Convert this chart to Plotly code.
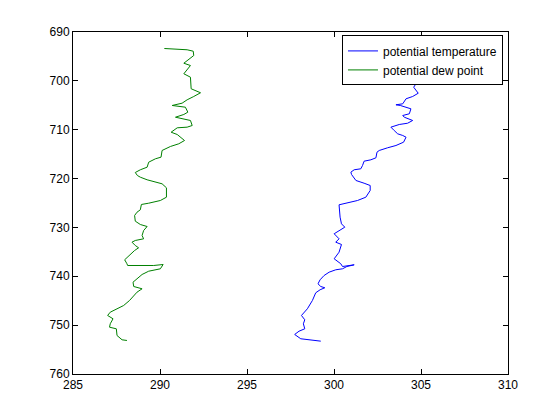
import plotly.graph_objects as go

# potential temperature (blue)
theta_x = [305.1, 304.6, 305.3, 304.90, 304.71, 304.58, 304.84, 304.52, 304.14, 303.95, 303.56, 303.81,
           304.42, 304.33, 303.95, 304.04, 304.52, 304.23, 303.75, 303.27, 303.46, 303.66, 303.95,
           304.14, 304.00, 303.56, 303.08, 302.60, 302.47, 302.41, 302.12, 301.73, 301.64, 301.54,
           301.16, 300.97, 301.01, 301.26, 301.73, 302.08, 302.08, 301.83, 301.35, 300.87, 300.29,
           300.35, 300.43, 300.62, 300.29, 300.01, 300.29, 300.10, 300.43, 300.29, 300.01, 300.29,
           300.39, 300.49, 301.16, 300.74, 300.49, 300.10, 299.72, 299.43, 299.20, 299.08, 299.24,
           299.47, 299.20, 298.95, 298.76, 298.47, 298.13, 298.32, 298.24, 298.32, 297.99, 297.74,
           298.09, 298.47, 298.95, 299.24]
theta_p = [693.4, 695.5, 697.5, 699.25, 700.60, 701.30, 702.53, 703.20, 703.67, 704.70, 704.90, 705.04,
           705.72, 706.74, 707.09, 707.44, 708.11, 708.67, 708.93, 709.48, 710.16, 710.84, 711.18,
           711.53, 712.55, 713.23, 713.70, 714.25, 714.60, 715.75, 716.16, 716.44, 717.32, 718.00,
           718.20, 718.69, 719.17, 720.39, 720.95, 721.42, 722.44, 723.81, 724.49, 724.83, 725.37,
           727.90, 729.26, 729.95, 730.63, 731.30, 732.33, 733.02, 733.49, 735.07, 736.42, 737.11,
           737.44, 738.00, 737.65, 738.00, 738.47, 738.67, 739.16, 739.84, 740.72, 741.54, 742.09,
           742.35, 742.76, 743.38, 744.95, 746.65, 748.02, 748.90, 749.72, 750.75, 751.24, 751.91,
           752.79, 753.00, 753.14, 753.28]

# potential dew point (green)
dew_x = [290.25, 291.56, 291.91, 291.94, 291.37, 291.75, 291.37, 291.75, 291.79, 292.33, 291.94, 291.56,
         291.27, 290.70, 291.46, 291.60, 291.37, 290.89, 291.75, 291.85, 291.56, 290.99, 290.64,
         290.99, 291.41, 291.08, 290.60, 290.12, 290.06, 289.74, 289.35, 289.26, 288.87, 288.58,
         288.70, 288.87, 289.26, 289.74, 290.12, 290.37, 290.37, 290.02, 289.64, 289.35, 288.93,
         288.87, 288.68, 288.54, 288.58, 288.87, 289.26, 289.06, 288.97, 289.06, 288.58, 288.39,
         288.58, 288.77, 288.54, 288.20, 287.97, 288.10, 288.14, 289.64, 290.18, 290.02, 289.35,
         288.97, 288.68, 288.45, 288.49, 288.97, 288.68, 288.45, 288.25, 287.91, 287.43, 287.14,
         286.99, 287.30, 287.14, 287.10, 287.49, 287.53, 287.82, 288.10]
dew_p = [693.38, 693.64, 693.93, 694.81, 696.39, 696.86, 698.55, 699.25, 701.62, 702.44, 703.20, 703.88,
         704.57, 705.04, 705.39, 706.41, 706.88, 707.44, 708.11, 709.14, 709.48, 709.61, 710.51,
         710.98, 712.21, 712.88, 713.43, 714.25, 715.62, 715.95, 716.65, 717.67, 718.20, 718.76,
         719.37, 719.72, 720.25, 720.74, 721.07, 721.89, 723.81, 724.49, 724.83, 725.04, 725.30,
         726.39, 726.88, 727.56, 728.72, 729.40, 729.81, 730.63, 731.65, 732.33, 732.67, 733.02,
         733.70, 734.17, 734.72, 735.95, 736.62, 737.44, 737.79, 737.79, 737.59, 738.47, 738.96,
         739.63, 740.51, 741.21, 742.09, 742.56, 743.25, 744.28, 744.95, 745.98, 746.86, 747.35,
         748.02, 748.70, 749.72, 750.42, 750.75, 752.12, 753.00, 753.14]

x_ticks = [285, 290, 295, 300, 305, 310]
y_ticks = [690, 700, 710, 720, 730, 740, 750, 760]

FONT = "Liberation Sans, Arial, Helvetica, sans-serif"

fig = go.Figure()
fig.add_trace(go.Scatter(x=theta_x, y=theta_p, mode="lines", name="potential temperature",
                         line=dict(color="#0000FF", width=1)))
fig.add_trace(go.Scatter(x=dew_x, y=dew_p, mode="lines", name="potential dew point",
                         line=dict(color="#008000", width=1)))

axis_common = dict(showline=True, linecolor="black", linewidth=1, mirror="ticks",
                   ticks="inside", ticklen=5, tickcolor="black", showgrid=False, zeroline=False,
                   tickfont=dict(family=FONT, size=12, color="black"))

# page body has an 8px margin, so the figure is 552x412 placed at (8, 8)
fig.update_layout(
    width=552, height=412,
    margin=dict(l=65, r=52, t=24, b=46),
    paper_bgcolor="white", plot_bgcolor="white",
    showlegend=True,
    legend=dict(x=0.9885, y=0.99, xanchor="right", yanchor="top",
                bgcolor="white", bordercolor="black", borderwidth=1,
                font=dict(family=FONT, size=12, color="black"),
                tracegroupgap=0, itemwidth=30),
    xaxis=dict(range=[285, 310], tickvals=x_ticks, ticktext=[str(v) for v in x_ticks], **axis_common),
    yaxis=dict(range=[760, 690], tickvals=y_ticks, ticktext=[str(v) for v in y_ticks], **axis_common),
)

fig.write_html("out.html")
